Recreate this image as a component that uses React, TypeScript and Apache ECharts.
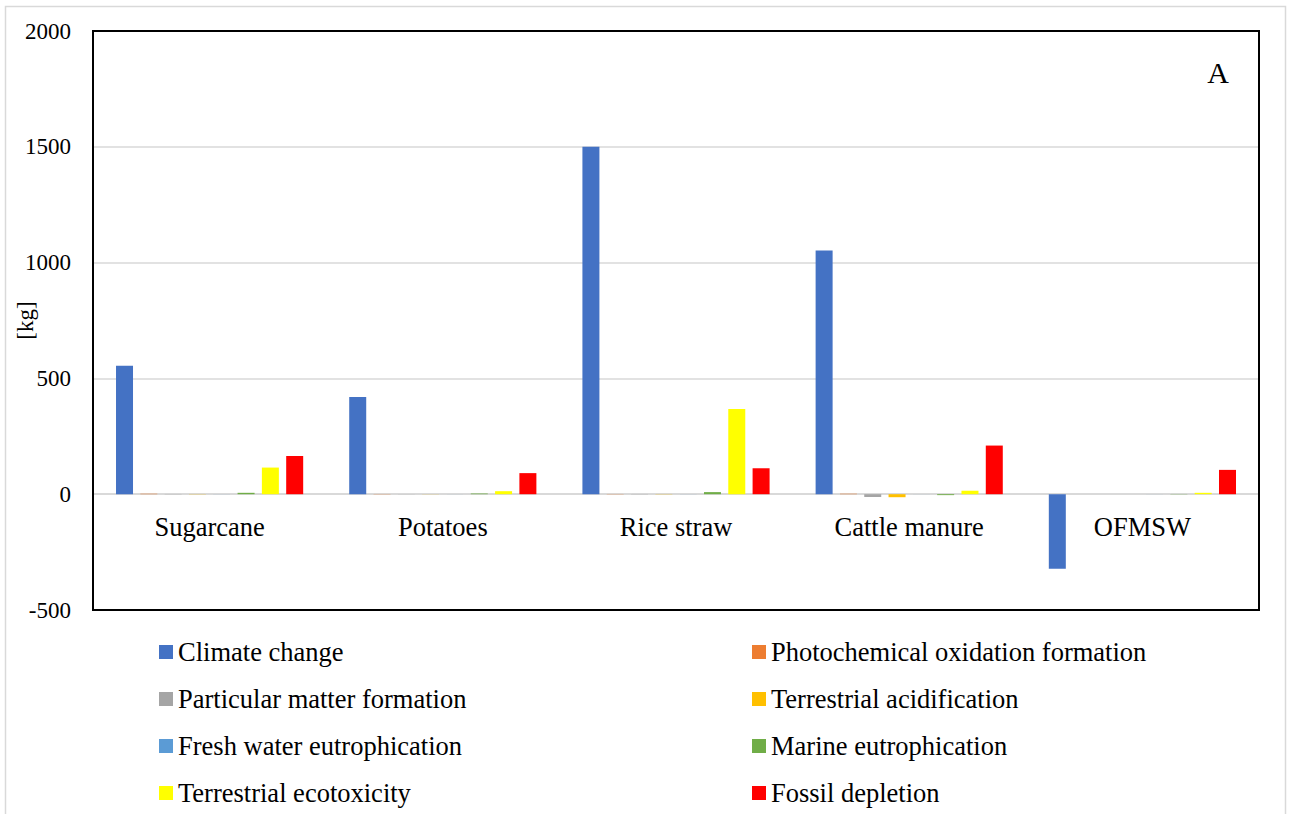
import React, { useEffect, useRef } from "react";
import * as echarts from "echarts";

const categories = ["Sugarcane", "Potatoes", "Rice straw", "Cattle manure", "OFMSW"];

const climateChange = [555, 420, 1500, 1052, -322];
const photochemical = [2, 1, 1, 2, 0];
const particulate = [1, 0.5, 1, -12, 0];
const acidification = [1, 0.5, 1, -13, 0];
const freshWater = [0.3, 0.2, 0.3, 0.2, 0.2];
const marine = [6, 3, 9, -4, 1];
const ecotoxicity = [115, 13, 368, 15, 6];
const fossil = [165, 91, 112, 210, 105];

const seriesNames = [
  "Climate change",
  "Photochemical oxidation formation",
  "Particular matter formation",
  "Terrestrial acidification",
  "Fresh water eutrophication",
  "Marine eutrophication",
  "Terrestrial ecotoxicity",
  "Fossil depletion",
];
const seriesValues = [
  climateChange,
  photochemical,
  particulate,
  acidification,
  freshWater,
  marine,
  ecotoxicity,
  fossil,
];
const seriesColors = [
  "#4472C4",
  "#ED7D31",
  "#A5A5A5",
  "#FFC000",
  "#5B9BD5",
  "#70AD47",
  "#FFFF00",
  "#FF0000",
];

const yTicks = { min: -500, max: 2000, interval: 500 };

const FONT = "'Liberation Serif', 'Times New Roman', serif";

export default function App() {
  const ref = useRef<HTMLDivElement>(null);

  useEffect(() => {
    document.body.style.margin = "0";
    if (!ref.current) return;
    const chart = echarts.init(ref.current, null, { renderer: "svg" });

    const W = 1289;
    const H = 814;
    const gridLeft = 93;
    const gridTop = 31;
    const gridRight = 30;
    const gridBottom = 204;
    const plotH = H - gridTop - gridBottom;
    const zeroFromBottom = (plotH * (0 - yTicks.min)) / (yTicks.max - yTicks.min);

    const legendText = { fontFamily: FONT, fontSize: 26.5, color: "#000", lineHeight: 27 };
    const colX = [159, 752];
    const rowY = [652, 699, 746, 793];

    const legends = seriesNames.map((name, i) => ({
      orient: "horizontal",
      left: colX[i % 2],
      top: rowY[Math.floor(i / 2)] - 13.5,
      padding: 0,
      itemWidth: 14,
      itemHeight: 14,
      itemGap: 0,
      icon: "rect",
      selectedMode: false,
      textStyle: legendText,
      data: [name],
    }));

    chart.setOption({
      animation: false,
      textStyle: { fontFamily: FONT, color: "#000" },
      grid: {
        left: gridLeft,
        top: gridTop,
        right: gridRight,
        bottom: gridBottom,
        containLabel: false,
        outerBoundsMode: "none",
      },
      xAxis: {
        type: "category",
        data: categories,
        offset: -zeroFromBottom,
        axisLine: { onZero: false, lineStyle: { color: "#D9D9D9", width: 2 } },
        axisTick: { show: false },
        axisLabel: { fontFamily: FONT, fontSize: 26.5, color: "#000", margin: 19 },
        splitLine: { show: false },
      },
      yAxis: {
        type: "value",
        min: yTicks.min,
        max: yTicks.max,
        interval: yTicks.interval,
        name: "[kg]",
        nameLocation: "middle",
        nameGap: 68,
        nameRotate: 90,
        nameMoveOverlap: false,
        nameTextStyle: { fontFamily: FONT, fontSize: 23, color: "#000", verticalAlign: "middle" },
        axisLine: { show: false },
        axisTick: { show: false },
        axisLabel: {
          fontFamily: FONT,
          fontSize: 23,
          color: "#000",
          margin: 22,
          align: "right",
          formatter: (v: number) => String(v),
        },
        splitLine: { show: true, lineStyle: { color: "#D9D9D9", width: 1.5 } },
      },
      legend: legends,
      series: seriesNames.map((name, i) => ({
        name,
        type: "bar",
        data: seriesValues[i],
        barWidth: 17,
        barGap: "43%",
        itemStyle: { color: seriesColors[i] },
      })),
      graphic: [
        {
          type: "rect",
          z: 100,
          silent: true,
          shape: { x: 5.5, y: 6.5, width: 1280, height: 830 },
          style: { fill: "none", stroke: "#D9D9D9", lineWidth: 1.5 },
        },
        {
          type: "rect",
          z: 100,
          silent: true,
          shape: {
            x: gridLeft,
            y: gridTop,
            width: W - gridLeft - gridRight,
            height: plotH,
          },
          style: { fill: "none", stroke: "#000", lineWidth: 2 },
        },
        {
          type: "text",
          z: 100,
          x: 1218,
          y: 72,
          style: {
            text: "A",
            fontFamily: FONT,
            fontSize: 30,
            fill: "#000",
            align: "center",
            verticalAlign: "middle",
          },
        },
      ],
    });

    return () => chart.dispose();
  }, []);

  return <div ref={ref} style={{ width: 1289, height: 814 }} />;
}
